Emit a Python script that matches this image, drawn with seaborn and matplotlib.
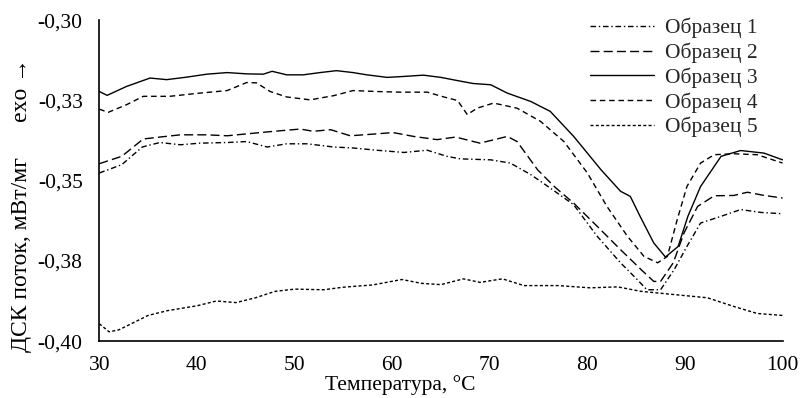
import matplotlib
matplotlib.use("Agg")
import matplotlib.pyplot as plt
import seaborn as sns
import pandas as pd

# ---- data ----
labels = ["Образец 1", "Образец 2", "Образец 3", "Образец 4", "Образец 5"]

t1 = [30, 32.3, 34.4, 36.2, 38.3, 40.3, 43.1, 45.1, 47.2, 49.2, 51.3, 54, 56, 58.4, 61.2, 63.6, 65.6, 67,
      70.1, 72.1, 74.2, 76.2, 78.6, 81, 83.4, 85.1, 86.1, 87.5, 88.9, 90.2, 91.6, 93.7, 95.7, 97.8, 100]
v1 = [-0.3476, -0.345, -0.3395, -0.3381, -0.3388, -0.3383, -0.3381, -0.3378, -0.3395, -0.3385, -0.3385,
      -0.3395, -0.3398, -0.3405, -0.3412, -0.3405, -0.3424, -0.3432, -0.3435, -0.3445, -0.3481, -0.3523,
      -0.3575, -0.3673, -0.3756, -0.3808, -0.384, -0.384, -0.3777, -0.3705, -0.3632, -0.3611, -0.359,
      -0.3599, -0.3603]

t2 = [30, 32.3, 34.5, 36.2, 38.3, 41, 43.1, 45.1, 47.9, 50.6, 51.9, 53.7, 55.7, 58.4, 60.1, 62.2, 64.6,
      66.5, 69, 71.8, 72.8, 74.9, 76.6, 78.6, 81, 83.4, 85.5, 86.8, 87.5, 88.8, 89.9, 91.3, 93, 95, 96.4,
      98.1, 100]
v2 = [-0.3447, -0.3424, -0.337, -0.3364, -0.3357, -0.3357, -0.336, -0.3354, -0.3346, -0.3339, -0.3346,
      -0.3341, -0.336, -0.3354, -0.335, -0.3362, -0.3372, -0.3364, -0.3383, -0.3362, -0.3378, -0.3466,
      -0.3518, -0.357, -0.3642, -0.3715, -0.3777, -0.3814, -0.3814, -0.3756, -0.3663, -0.358, -0.3547,
      -0.3546, -0.3536, -0.3546, -0.3554]

t3 = [30, 30.8, 32.8, 35.2, 36.9, 39, 41, 43.1, 45.1, 46.8, 47.7, 49.2, 50.9, 52.6, 54.3, 56, 57.4, 59.5,
      61.2, 63.2, 65, 66.7, 68.3, 70.1, 71.8, 74.2, 76.2, 78.6, 81.4, 83.4, 84.4, 85.4, 86.8, 88, 89.3,
      90.3, 91.6, 93.7, 95.7, 98.1, 100]
v3 = [-0.3222, -0.3234, -0.3206, -0.318, -0.3185, -0.3177, -0.3168, -0.3163, -0.3167, -0.3168, -0.3159,
      -0.317, -0.317, -0.3163, -0.3157, -0.3163, -0.317, -0.3178, -0.3175, -0.3171, -0.3178, -0.3188,
      -0.3197, -0.3201, -0.3227, -0.3253, -0.3284, -0.3362, -0.3466, -0.3533, -0.3549, -0.3611, -0.3694,
      -0.3738, -0.3705, -0.3611, -0.3518, -0.3424, -0.3406, -0.3414, -0.3435]

t4 = [30, 30.9, 32.8, 34.5, 37.2, 40.3, 43.1, 45.1, 46.1, 47.5, 49.2, 51.6, 54, 56, 58.4, 60.8, 63.6,
      65.3, 66.7, 67.7, 68.7, 70.4, 72.8, 75.2, 77.6, 80, 82, 84.1, 85.8, 87.2, 88.2, 89.2, 90.2, 91.6,
      93, 95, 97.4, 100]
v4 = [-0.3277, -0.3287, -0.3263, -0.3237, -0.3237, -0.3227, -0.3219, -0.3194, -0.3195, -0.3222, -0.3239,
      -0.3248, -0.3235, -0.3219, -0.3222, -0.3224, -0.3224, -0.3239, -0.325, -0.3294, -0.3274, -0.3258,
      -0.3274, -0.3315, -0.3378, -0.3476, -0.358, -0.3673, -0.3736, -0.3756, -0.3736, -0.3622, -0.3518,
      -0.3445, -0.3419, -0.3416, -0.3419, -0.3445]

t5 = [30, 31, 32, 33, 35, 37, 40, 42, 44, 46, 48, 50, 53, 55, 58, 61, 63, 65, 67.3, 69, 71.3, 73.5, 77,
      80.3, 83.1, 85.5, 88.9, 92.3, 95, 97.4, 100]
v5 = [-0.3946, -0.3971, -0.3965, -0.395, -0.392, -0.3905, -0.389, -0.3875, -0.388, -0.3865, -0.3845,
      -0.3838, -0.384, -0.3832, -0.3825, -0.3808, -0.382, -0.3824, -0.3806, -0.3817, -0.3806, -0.3827,
      -0.3827, -0.3834, -0.3831, -0.3845, -0.3855, -0.3865, -0.3892, -0.3914, -0.392]

y_ticks = [-0.40, -0.375, -0.35, -0.325, -0.30]
y_tick_labels = ["-0,40", "-0,38", "-0,35", "-0,33", "-0,30"]
x_ticks = [30, 40, 50, 60, 70, 80, 90, 100]

# ---- build long table ----
frames = []
for lab, t, v in zip(labels, [t1, t2, t3, t4, t5], [v1, v2, v3, v4, v5]):
    frames.append(pd.DataFrame({"T": t, "DSC": v, "sample": lab}))
df = pd.concat(frames, ignore_index=True)

sns.set_theme(style="white")
plt.rcParams["font.family"] = ["Liberation Serif", "DejaVu Serif"]

fig = plt.figure(figsize=(8.01, 3.98), dpi=100)
ax = fig.add_axes([0.124, 0.143, 0.853, 0.806])

dash_map = {
    "Образец 1": (4, 2, 1, 2),
    "Образец 2": (6.5, 3),
    "Образец 3": "",
    "Образец 4": (4, 2.7),
    "Образец 5": (2.2, 1.6),
}
sns.lineplot(data=df, x="T", y="DSC", style="sample", style_order=labels, dashes=dash_map,
             color="black", linewidth=1.0, estimator=None, sort=False, ax=ax, legend=True)

ax.set_xlim(30, 100)
ax.set_ylim(-0.40, -0.30)
ax.set_xticks(x_ticks)
ax.set_xticklabels([str(x) for x in x_ticks])
ax.set_yticks(y_ticks)
ax.set_yticklabels(y_tick_labels)
ax.tick_params(axis="both", length=0, labelsize=15.5, colors="black")
ax.tick_params(axis="y", pad=12)
ax.tick_params(axis="x", pad=11)

for s in ["top", "right"]:
    ax.spines[s].set_visible(False)
for s in ["left", "bottom"]:
    ax.spines[s].set_color("black")
    ax.spines[s].set_linewidth(1.2)

ax.set_xlabel("Температура, °C", fontsize=15.5, color="black")
ax.xaxis.set_label_coords(0.44, -0.105)
ax.set_ylabel("ДСК поток, мВт/мг      exo →", fontsize=17, color="black")
ax.yaxis.set_label_coords(-0.099, 0.424)

handles, labs = ax.get_legend_handles_labels()
leg = ax.legend(handles, labs, loc="upper left", bbox_to_anchor=(0.718, 1.008), frameon=False,
                fontsize=15.5, handlelength=3.0, handletextpad=0.5, labelspacing=0.2, borderpad=0,
                borderaxespad=0)
for line in leg.get_lines():
    line.set_linewidth(1.0)

fig.savefig("out.png", dpi=100)
